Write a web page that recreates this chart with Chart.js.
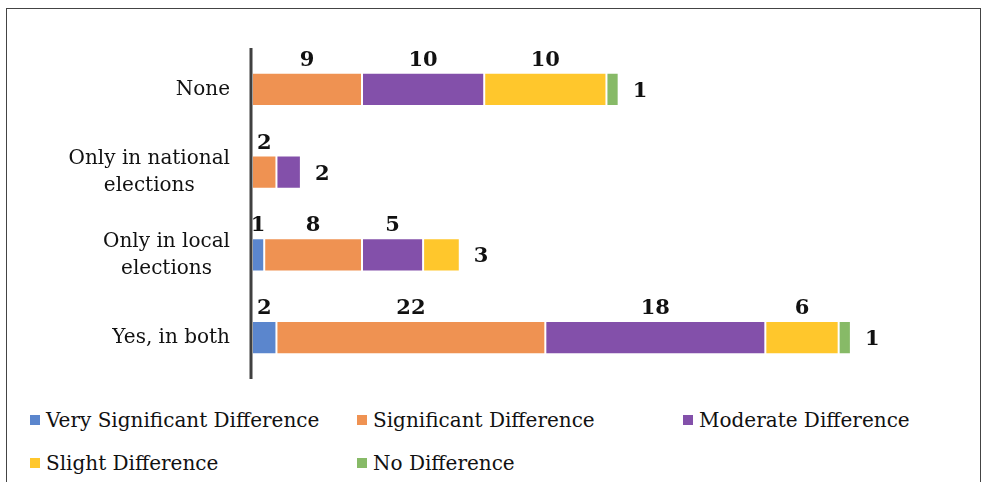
<!DOCTYPE html>
<html>
<head>
<meta charset="utf-8">
<script src="https://cdn.jsdelivr.net/npm/chart.js@4/dist/chart.umd.min.js"></script>
<style>
  body { margin: 0; background: #fff; }
  #wrap { position: relative; width: 982px; height: 482px; overflow: hidden; }
  #frame { position: absolute; left: 6px; top: 8px; width: 975px; height: 490px; border: 1px solid #444; box-sizing: border-box; }
  #chart { position: absolute; left: 0; top: 0; }
  .leg { position: absolute; font-family: "DejaVu Serif", serif; font-size: 20px; color: #111; white-space: nowrap; line-height: 22px; }
  .leg span.box { display: inline-block; width: 10px; height: 10px; margin-right: 6px; vertical-align: 2px; }
</style>
</head>
<body>
<div id="wrap">
  <div id="frame"></div>
  <canvas id="chart" width="982" height="390"></canvas>
  <div id="legend"></div>
</div>
<script>
const categories = [['None'], ['Only in national', 'elections'], ['Only in local', 'elections'], ['Yes, in both']];
const seriesNames = ['Very Significant Difference', 'Significant Difference', 'Moderate Difference', 'Slight Difference', 'No Difference'];
const verySignificant = [0, 0, 1, 2];
const significant = [9, 2, 8, 22];
const moderate = [10, 2, 5, 18];
const slight = [10, 0, 3, 6];
const noDifference = [1, 0, 0, 1];
const colors = ['#5b86cd', '#ef9252', '#8350aa', '#ffc72c', '#87ba67'];

const allSeries = [verySignificant, significant, moderate, slight, noDifference];
const labelFont = 'bold 21px "DejaVu Serif", serif';
const catFont = '20px "DejaVu Serif", serif';

// draws axis line, category labels and value labels
const decorations = {
  id: 'decorations',
  afterDatasetsDraw(chart) {
    const ctx = chart.ctx;
    const area = chart.chartArea;
    ctx.save();
    ctx.strokeStyle = '#404040';
    ctx.lineWidth = 3;
    ctx.beginPath();
    ctx.moveTo(area.left - 1, area.top);
    ctx.lineTo(area.left - 1, area.bottom);
    ctx.stroke();

    // category labels: block right aligned, lines centered
    ctx.font = catFont;
    ctx.fillStyle = '#111';
    ctx.textBaseline = 'middle';
    ctx.textAlign = 'center';
    const yScale = chart.scales.y;
    categories.forEach((lines, i) => {
      const cy = yScale.getPixelForValue(i);
      const maxW = Math.max(...lines.map(l => ctx.measureText(l).width));
      const cx = area.left - 22 - maxW / 2;
      const lh = 27;
      lines.forEach((l, j) => {
        ctx.fillText(l, cx, cy + (j - (lines.length - 1) / 2) * lh);
      });
    });

    // value labels
    ctx.font = labelFont;
    ctx.fillStyle = '#111';
    categories.forEach((c, i) => {
      let last = -1;
      allSeries.forEach((s, d) => { if (s[i] > 0) last = d; });
      allSeries.forEach((s, d) => {
        if (!(s[i] > 0)) return;
        const el = chart.getDatasetMeta(d).data[i];
        if (d === last) {
          ctx.textAlign = 'left';
          ctx.textBaseline = 'middle';
          ctx.fillText(String(s[i]), el.x + 14, el.y + 2);
        } else {
          ctx.textAlign = 'center';
          ctx.textBaseline = 'bottom';
          ctx.fillText(String(s[i]), (el.x + el.base) / 2, el.y - el.height / 2 - 2);
        }
      });
    });
    ctx.restore();
  }
};

new Chart(document.getElementById('chart'), {
  type: 'bar',
  data: {
    labels: categories.map(c => c.join(' ')),
    datasets: allSeries.map((s, d) => ({
      label: seriesNames[d],
      data: s,
      backgroundColor: colors[d],
      borderColor: 'rgba(255,255,255,0.55)',
      borderWidth: 1,
      borderSkipped: false,
      barPercentage: 0.8,
      categoryPercentage: 0.5
    }))
  },
  options: {
    indexAxis: 'y',
    responsive: false,
    animation: false,
    layout: { padding: { left: 252, right: 70, top: 48, bottom: 11 } },
    scales: {
      x: { stacked: true, min: 0, max: 54, display: false },
      y: { stacked: true, display: false }
    },
    plugins: {
      legend: { display: false },
      tooltip: { enabled: false }
    }
  },
  plugins: [decorations]
});

// legend laid out in columns like the original
const legendPos = [[30, 409], [357, 409], [683, 409], [30, 452], [357, 452]];
const legend = document.getElementById('legend');
seriesNames.forEach((name, d) => {
  const item = document.createElement('div');
  item.className = 'leg';
  item.style.left = legendPos[d][0] + 'px';
  item.style.top = legendPos[d][1] + 'px';
  const box = document.createElement('span');
  box.className = 'box';
  box.style.background = colors[d];
  item.appendChild(box);
  item.appendChild(document.createTextNode(name));
  legend.appendChild(item);
});
</script>
</body>
</html>
